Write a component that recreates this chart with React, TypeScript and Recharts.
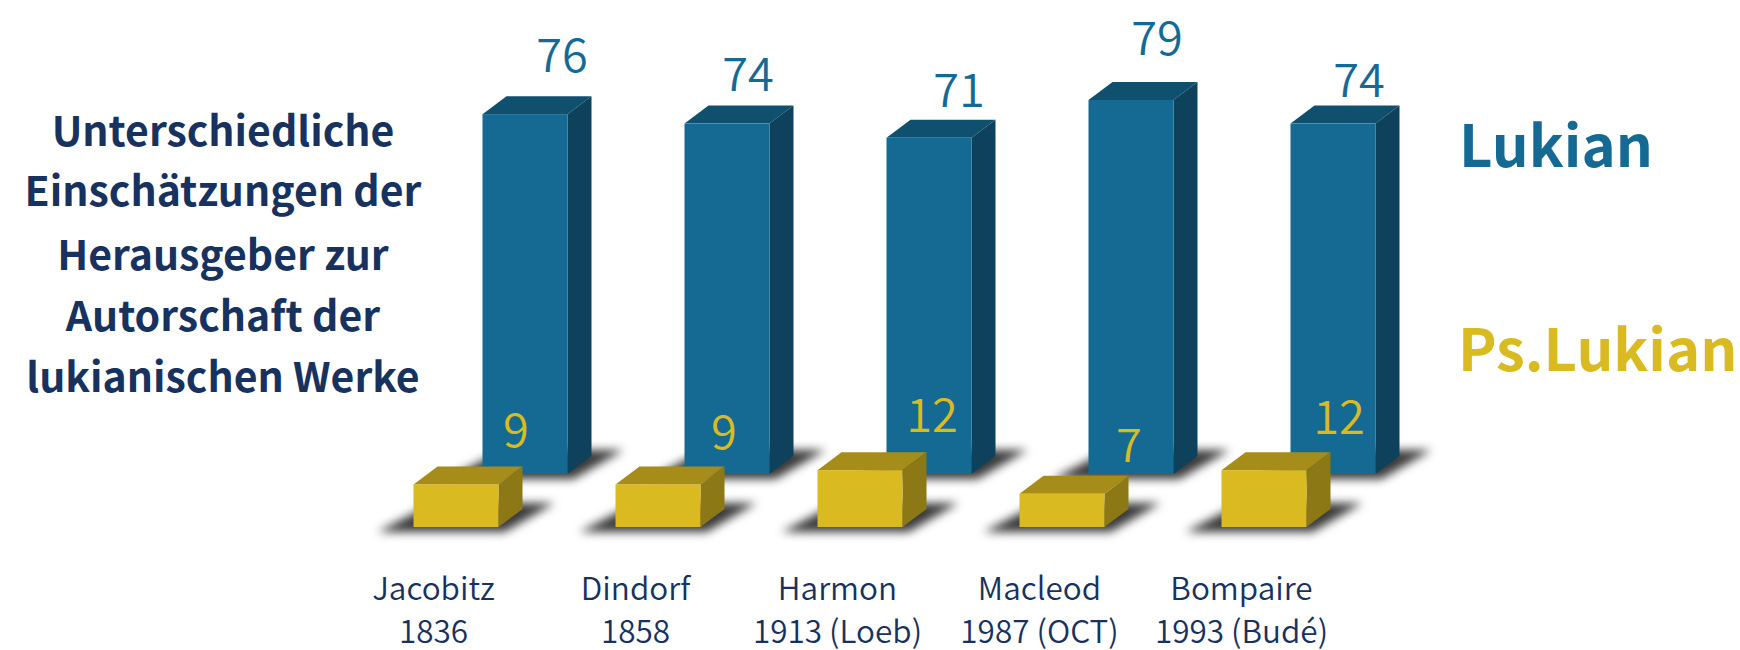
import { BarChart, Bar, XAxis, YAxis, LabelList } from "recharts";

const editors = ["Jacobitz", "Dindorf", "Harmon", "Macleod", "Bompaire"];
const editions = ["1836", "1858", "1913 (Loeb)", "1987 (OCT)", "1993 (Budé)"];
const lukian = [76, 74, 71, 79, 74];
const pseudoLukian = [9, 9, 12, 7, 12];
const titleLines = [
  "Unterschiedliche",
  "Einschätzungen der",
  "Herausgeber zur",
  "Autorschaft der",
  "lukianischen Werke",
];

const chartData = editors.map((editor, i) => ({
  editor,
  edition: editions[i],
  lukian: lukian[i],
  pseudoLukian: pseudoLukian[i],
}));

const WIDTH = 1740;
const HEIGHT = 650;
const FONT = '"Noto Sans CJK SC", "Noto Sans", sans-serif';

const BLUE = { front: "#156a94", top: "#10506f", side: "#0e415c" };
const YELLOW = { front: "#d9ba21", top: "#a68c19", side: "#8c7814" };

const titleBaselines = [146, 206, 270, 331, 392];

// labels sit loose around the bars in the original, so they get hand nudges
const lukianNudge = [
  [37, -59],
  [21, -50],
  [30, -48],
  [26, -62],
  [26, -44],
];
const pseudoNudge = [
  [60, -54],
  [66, -52],
  [72, -55],
  [67, -49],
  [75, -53],
];

const Box3D = ({ x, y, width, height, colors }: any) => {
  const dx = 24;
  const dy = 18;
  const r = x + width;
  const b = y + height;
  return (
    <g>
      <path
        d={`M${x - 36} ${b + 5}L${r + 6} ${b + 5}L${r + 56} ${b - 24}L${x + 20} ${b - 24}Z`}
        fill="#3a3a3a"
        style={{ filter: "blur(5px)" }}
      />
      <path
        d={`M${x} ${y}L${x + dx} ${y - dy}L${r + dx} ${y - dy}L${r} ${y}Z`}
        fill={colors.top}
      />
      <path
        d={`M${r} ${y}L${r + dx} ${y - dy}L${r + dx} ${b - dy}L${r} ${b}Z`}
        fill={colors.side}
      />
      <rect x={x} y={y} width={width} height={height} fill={colors.front} />
    </g>
  );
};

const valueLabel =
  (color: string, nudge: number[][]) =>
  ({ x, y, width, value, index }: any) => (
    <text
      x={x + width / 2 + nudge[index][0]}
      y={y + nudge[index][1]}
      dy="0.36em"
      textAnchor="middle"
      fontFamily={FONT}
      fontWeight={350}
      fontSize={47}
      fill={color}
    >
      {value}
    </text>
  );

const EditorTick = ({ x, payload, index }: any) => (
  <text
    x={x - 22}
    textAnchor="middle"
    fontFamily={FONT}
    fontWeight={350}
    fontSize={31.5}
    fill="#17325e"
  >
    <tspan x={x - 22} y={600}>
      {payload.value}
    </tspan>
    <tspan x={x - 22} y={643}>
      {editions[index]}
    </tspan>
  </text>
);

const layer = { position: "absolute", left: 0, top: 0 } as const;

export default function App() {
  return (
    <div
      style={{
        position: "absolute",
        left: 0,
        top: 0,
        width: WIDTH,
        height: HEIGHT,
        background: "#fff",
        overflow: "hidden",
      }}
    >
      <svg width={WIDTH} height={HEIGHT} style={layer}>
        {titleLines.map((line, i) => (
          <text
            key={line}
            x={223}
            y={titleBaselines[i]}
            textAnchor="middle"
            fontFamily={FONT}
            fontWeight={700}
            fontSize={41}
            fill="#17325e"
          >
            {line}
          </text>
        ))}
        <text x={1459} y={167} fontFamily={FONT} fontWeight={700} fontSize={58} fill={BLUE.front}>
          Lukian
        </text>
        <text x={1458} y={371} fontFamily={FONT} fontWeight={700} fontSize={58} fill={YELLOW.front}>
          Ps.Lukian
        </text>
      </svg>

      <div style={layer}>
        <BarChart
          width={WIDTH}
          height={HEIGHT}
          data={chartData}
          margin={{ top: 47.85, right: 306.5, bottom: 176, left: 423.5 }}
        >
          <XAxis dataKey="editor" hide />
          <YAxis hide domain={[0, 90]} />
          <Bar
            dataKey="lukian"
            barSize={85}
            isAnimationActive={false}
            shape={(p: any) => <Box3D {...p} colors={BLUE} />}
          >
            <LabelList dataKey="lukian" content={valueLabel(BLUE.front, lukianNudge)} />
          </Bar>
        </BarChart>
      </div>

      <div style={layer}>
        <BarChart
          width={WIDTH}
          height={HEIGHT}
          data={chartData}
          margin={{ top: 100.85, right: 375.5, bottom: 93, left: 354.5 }}
        >
          <XAxis dataKey="editor" axisLine={false} tickLine={false} interval={0} tick={<EditorTick />} />
          <YAxis hide domain={[0, 90]} />
          <Bar
            dataKey="pseudoLukian"
            barSize={85}
            isAnimationActive={false}
            shape={(p: any) => <Box3D {...p} colors={YELLOW} />}
          >
            <LabelList dataKey="pseudoLukian" content={valueLabel(YELLOW.front, pseudoNudge)} />
          </Bar>
        </BarChart>
      </div>
    </div>
  );
}
